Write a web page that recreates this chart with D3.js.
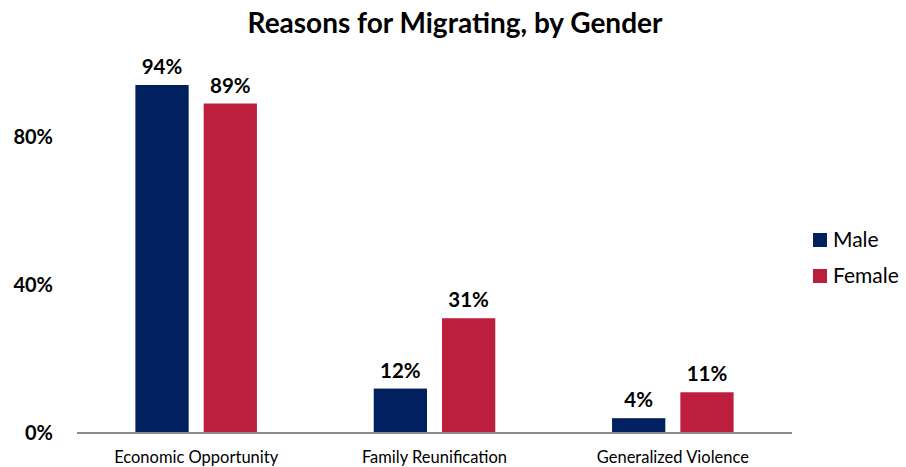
<!DOCTYPE html>
<html>
<head>
    <meta charset="utf-8">
    <title>Reasons for Migrating, by Gender</title>
    <script src="https://d3js.org/d3.v7.min.js"></script>
    <style>
        body { margin: 0; background: #fff; }
        text { font-family: Lato, "Open Sans", sans-serif; fill: #000; }
        .title { font-size: 28px; font-weight: bold; }
        .tick-label { font-size: 20px; font-weight: bold; }
        .cat-label { font-size: 16.5px; }
        .value-label { font-size: 20.5px; font-weight: bold; }
        .legend-label { font-size: 21px; }
    </style>
</head>
<body>
    <div id="chart"></div>
    <script>
        const categories = ["Economic Opportunity", "Family Reunification", "Generalized Violence"];
        const genders = ["Male", "Female"];
        const male = [94, 12, 4];
        const female = [89, 31, 11];
        const yTicks = [0, 40, 80];
        const colors = { Male: "#002060", Female: "#BE1E3E" };

        const width = 906, height = 467;
        const plot = { left: 77, right: 792, top: 85, bottom: 433 };

        const data = categories.map((c, i) => ({ category: c, Male: male[i], Female: female[i] }));

        const svg = d3.select("#chart")
            .append("svg")
            .attr("width", width)
            .attr("height", height);

        const x0 = d3.scaleBand()
            .domain(categories)
            .range([plot.left, plot.right])
            .paddingInner(0.49)
            .paddingOuter(0.245);

        const x1 = d3.scaleBand()
            .domain(genders)
            .range([0, x0.bandwidth()])
            .paddingInner(0.22);

        const y = d3.scaleLinear()
            .domain([0, 94])
            .range([plot.bottom, plot.top]);

        // title
        svg.append("text")
            .attr("class", "title")
            .attr("x", 455)
            .attr("y", 33)
            .attr("text-anchor", "middle")
            .text("Reasons for Migrating, by Gender");

        // y tick labels (no axis line)
        svg.append("g")
            .selectAll("text")
            .data(yTicks)
            .join("text")
            .attr("class", "tick-label")
            .attr("x", 53)
            .attr("y", d => y(d))
            .attr("dy", "0.35em")
            .attr("text-anchor", "end")
            .text(d => d + "%");

        // bars
        const groups = svg.append("g")
            .selectAll("g")
            .data(data)
            .join("g")
            .attr("transform", d => `translate(${x0(d.category)},0)`);

        groups.selectAll("rect")
            .data(d => genders.map(g => ({ key: g, value: d[g] })))
            .join("rect")
            .attr("x", d => x1(d.key))
            .attr("y", d => y(d.value))
            .attr("width", x1.bandwidth())
            .attr("height", d => y(0) - y(d.value))
            .attr("fill", d => colors[d.key]);

        groups.selectAll("text")
            .data(d => genders.map(g => ({ key: g, value: d[g] })))
            .join("text")
            .attr("class", "value-label")
            .attr("x", d => x1(d.key) + x1.bandwidth() / 2)
            .attr("y", d => y(d.value) - 11)
            .attr("text-anchor", "middle")
            .text(d => d.value + "%");

        // x axis
        const xAxis = svg.append("g")
            .attr("transform", `translate(0,${plot.bottom})`)
            .call(d3.axisBottom(x0).tickSize(0).tickPadding(18));
        xAxis.select(".domain")
            .attr("d", `M${plot.left},0H${plot.right}`)
            .attr("stroke", "#8c8c8c")
            .attr("stroke-width", 2);
        xAxis.selectAll("text")
            .attr("class", "cat-label")
            .attr("font-family", null)
            .attr("font-size", null)
            .attr("fill", "#000");

        // legend
        const legend = svg.append("g")
            .selectAll("g")
            .data(genders)
            .join("g")
            .attr("transform", (d, i) => `translate(813,${233 + i * 36})`);
        legend.append("rect")
            .attr("width", 14)
            .attr("height", 14)
            .attr("fill", d => colors[d]);
        legend.append("text")
            .attr("class", "legend-label")
            .attr("x", 20)
            .attr("y", 14)
            .text(d => d);
    </script>
</body>
</html>
